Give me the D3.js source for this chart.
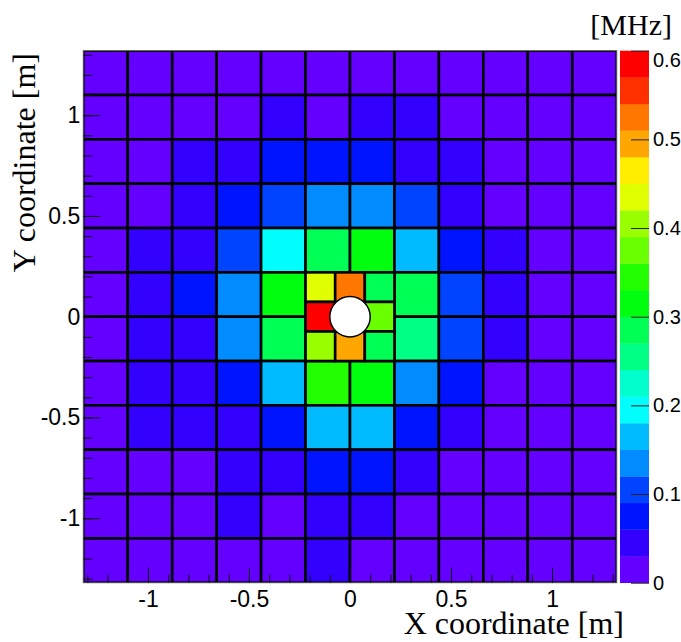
<!DOCTYPE html>
<html>
<head>
<meta charset="utf-8">
<script src="https://cdn.jsdelivr.net/npm/d3@7"></script>
<style>
  html, body { margin: 0; padding: 0; background: #fff; }
  svg { display: block; }
</style>
</head>
<body>
<svg id="chart" width="681" height="642"></svg>
<script>
// ---------------- DATA ----------------
// Outer grid: 12 x 12 bins of 0.22 m, covering [-1.32, 1.32] in X and Y
const outerEdges = [-1.32, -1.10, -0.88, -0.66, -0.44, -0.22, 0, 0.22, 0.44, 0.66, 0.88, 1.10, 1.32];
// Inner (finer) grid replacing the central 2x2 block: 3 x 3 bins
const innerEdges = [-0.22, -0.0733, 0.0733, 0.22];
// Rate values [MHz]; rows listed from top (largest Y) to bottom, columns from left (smallest X)
// null = bin covered by the finer inner grid
const outerValues = [
  [0.02, 0.02, 0.02, 0.02, 0.02, 0.02, 0.02, 0.02, 0.02, 0.02, 0.02, 0.02],
  [0.02, 0.02, 0.02, 0.02, 0.05, 0.02, 0.05, 0.05, 0.02, 0.02, 0.02, 0.02],
  [0.02, 0.02, 0.05, 0.05, 0.07, 0.07, 0.07, 0.05, 0.05, 0.02, 0.02, 0.02],
  [0.02, 0.02, 0.05, 0.07, 0.10, 0.13, 0.13, 0.10, 0.05, 0.02, 0.02, 0.02],
  [0.02, 0.05, 0.05, 0.10, 0.19, 0.28, 0.32, 0.17, 0.07, 0.05, 0.02, 0.02],
  [0.02, 0.05, 0.07, 0.13, 0.32, null, null, 0.28, 0.10, 0.05, 0.02, 0.02],
  [0.02, 0.05, 0.05, 0.13, 0.28, null, null, 0.26, 0.10, 0.05, 0.02, 0.02],
  [0.02, 0.05, 0.05, 0.07, 0.17, 0.34, 0.32, 0.13, 0.07, 0.02, 0.02, 0.02],
  [0.02, 0.05, 0.05, 0.05, 0.07, 0.17, 0.17, 0.07, 0.05, 0.02, 0.02, 0.02],
  [0.02, 0.02, 0.02, 0.05, 0.05, 0.07, 0.07, 0.05, 0.02, 0.02, 0.02, 0.02],
  [0.02, 0.02, 0.02, 0.05, 0.02, 0.05, 0.05, 0.02, 0.02, 0.02, 0.02, 0.02],
  [0.02, 0.02, 0.02, 0.02, 0.02, 0.05, 0.02, 0.02, 0.02, 0.02, 0.02, 0.02]
];
const innerValues = [
  [0.43, 0.52, 0.28],
  [0.58, null, 0.37],
  [0.40, 0.50, 0.28]
];
const holeRadius = 0.10;            // [m], central beam hole
const zRange = [0, 0.6];            // colour axis range [MHz]
const nContours = 20;
const xMajorTicks = [-1, -0.5, 0, 0.5, 1];
const yMajorTicks = [-1, -0.5, 0, 0.5, 1];
const minorTicks = [-1.3,-1.2,-1.1,-1.0,-0.9,-0.8,-0.7,-0.6,-0.5,-0.4,-0.3,-0.2,-0.1,0,0.1,0.2,0.3,0.4,0.5,0.6,0.7,0.8,0.9,1.0,1.1,1.2,1.3];
const zTicks = [0, 0.1, 0.2, 0.3, 0.4, 0.5, 0.6];
const xTitle = "X coordinate [m]";
const yTitle = "Y coordinate [m]";
const zTitle = "[MHz]";

// ---------------- STYLE ----------------
// ROOT "pretty" palette (violet -> red), 20 contour colours, given as hues
const paletteHues = [263.2, 252, 235.2, 224, 207.2, 196, 179.2, 168, 151.2, 140,
                     123.2, 112, 95.2, 84, 67.2, 56, 39.2, 28, 11.2, 0];
const palette = paletteHues.map(h => d3.hsl(h, 1, 0.5).formatHex());

const svg = d3.select("#chart");
const plot = { left: 83.3, right: 616.7, top: 50.7, bottom: 582.7 };
const bar = { left: 620, right: 649 };
const sansFont = "'Liberation Sans', Arial, Helvetica, sans-serif";
const serifFont = "'Liberation Serif', 'Times New Roman', Times, serif";

const x = d3.scaleLinear().domain([outerEdges[0], outerEdges[outerEdges.length - 1]]).range([plot.left, plot.right]);
const y = d3.scaleLinear().domain([outerEdges[0], outerEdges[outerEdges.length - 1]]).range([plot.bottom, plot.top]);
const color = d3.scaleQuantize().domain(zRange).range(palette);

// clip
svg.append("defs").append("clipPath").attr("id", "plotclip")
  .append("rect")
  .attr("x", plot.left).attr("y", plot.top)
  .attr("width", plot.right - plot.left).attr("height", plot.bottom - plot.top);

// build cells
function cellsFrom(values, edges) {
  const n = edges.length - 1;
  const out = [];
  values.forEach((row, r) => {
    row.forEach((v, c) => {
      if (v === null) return;
      out.push({ x0: edges[c], x1: edges[c + 1], y0: edges[n - r - 1], y1: edges[n - r], v });
    });
  });
  return out;
}
const cells = cellsFrom(outerValues, outerEdges).concat(cellsFrom(innerValues, innerEdges));

const gCells = svg.append("g").attr("clip-path", "url(#plotclip)");
gCells.selectAll("rect.cell").data(cells).join("rect")
  .attr("class", "cell")
  .attr("x", d => x(d.x0))
  .attr("y", d => y(d.y1))
  .attr("width", d => x(d.x1) - x(d.x0))
  .attr("height", d => y(d.y0) - y(d.y1))
  .attr("fill", d => color(d.v))
  .attr("stroke", "#000")
  .attr("stroke-width", 2.6);

// central hole
gCells.append("circle")
  .attr("cx", x(0)).attr("cy", y(0))
  .attr("r", x(holeRadius) - x(0))
  .attr("fill", "#fff")
  .attr("stroke", "#000")
  .attr("stroke-width", 1.5);

// frame
svg.append("rect")
  .attr("x", plot.left).attr("y", plot.top)
  .attr("width", plot.right - plot.left).attr("height", plot.bottom - plot.top)
  .attr("fill", "none").attr("stroke", "#555").attr("stroke-width", 1);

const fmt = d => String(d);

// X axis
const gx = svg.append("g").attr("transform", `translate(0,${plot.bottom})`);
const gxMinor = gx.append("g").call(d3.axisBottom(x).tickValues(minorTicks).tickSize(-8).tickFormat(""));
gxMinor.selectAll("text").remove();
gx.append("g").call(d3.axisBottom(x).tickValues(xMajorTicks).tickSize(-15).tickPadding(8).tickFormat(fmt));
gx.selectAll(".domain").remove();
gx.selectAll("line").attr("stroke", "#111");
gx.selectAll("text").attr("font-family", sansFont).attr("font-size", 23).attr("fill", "#000");

// Y axis
const gy = svg.append("g").attr("transform", `translate(${plot.left},0)`);
const gyMinor = gy.append("g").call(d3.axisLeft(y).tickValues(minorTicks).tickSize(-9).tickFormat(""));
gyMinor.selectAll("text").remove();
gy.append("g").call(d3.axisLeft(y).tickValues(yMajorTicks).tickSize(-17).tickPadding(3).tickFormat(fmt));
gy.selectAll(".domain").remove();
gy.selectAll("line").attr("stroke", "#111");
gy.selectAll("text").attr("font-family", sansFont).attr("font-size", 23).attr("fill", "#000");

// colour bar
const z = d3.scaleLinear().domain(zRange).range([plot.bottom, plot.top]);
const step = (zRange[1] - zRange[0]) / nContours;
const bands = d3.range(nContours).map(i => ({ lo: zRange[0] + i * step, hi: zRange[0] + (i + 1) * step, c: palette[i] }));
svg.append("g").selectAll("rect").data(bands).join("rect")
  .attr("x", bar.left).attr("width", bar.right - bar.left)
  .attr("y", d => z(d.hi)).attr("height", d => z(d.lo) - z(d.hi) + 0.3)
  .attr("fill", d => d.c);

const gz = svg.append("g").attr("transform", `translate(${bar.right},0)`);
gz.call(d3.axisRight(z).tickValues(zTicks).tickSize(-18).tickPadding(4).tickFormat(fmt));
gz.selectAll(".domain").remove();
gz.selectAll("line").attr("stroke", "#222");
gz.selectAll("text").attr("font-family", sansFont).attr("font-size", 20).attr("fill", "#000");
// the top label sits below its tick (ROOT style)
gz.selectAll(".tick").filter(d => d === zRange[1]).select("text").attr("dy", "0.78em");

// titles
svg.append("text").attr("x", 672).attr("y", 35).attr("text-anchor", "end")
  .attr("font-family", serifFont).attr("font-size", 30).text(zTitle);
svg.append("text").attr("x", 624).attr("y", 634).attr("text-anchor", "end")
  .attr("font-family", serifFont).attr("font-size", 32).text(xTitle);
svg.append("text").attr("transform", "translate(35,53) rotate(-90)").attr("text-anchor", "end")
  .attr("font-family", serifFont).attr("font-size", 32).text(yTitle);
</script>
</body>
</html>
